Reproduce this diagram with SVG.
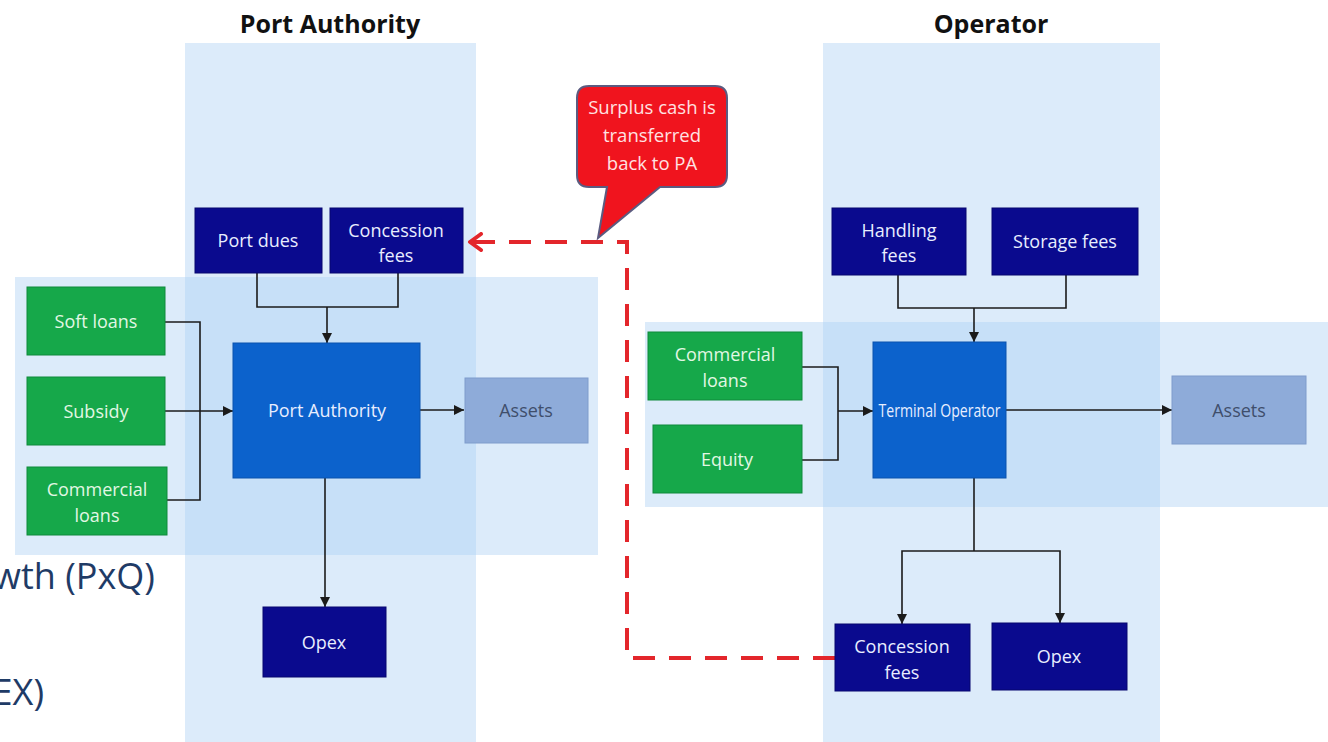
<svg xmlns="http://www.w3.org/2000/svg" width="1328" height="742" viewBox="0 0 1328 742">
<style>
.band{fill:#DCEBFA}
.ov{fill:#C7E0F8}
.navy{fill:#0A0A8E;stroke:#06066e;stroke-width:1}
.green{fill:#16A84A;stroke:#0f8a3a;stroke-width:1}
.main{fill:#0C62CC;stroke:#0a52ad;stroke-width:1}
.asset{fill:#8EABD9;stroke:#7f9ccb;stroke-width:1}
text{font-family:"Open Sans","Liberation Sans",sans-serif}
.lbl{font-size:18px;fill:#E8EEFF;text-anchor:middle}
.glbl{font-size:18px;fill:#E2F7E4;text-anchor:middle}
.albl{font-size:18px;fill:#3F4E6B;text-anchor:middle}
.title{font-size:25px;font-weight:bold;fill:#111;text-anchor:middle}
.conn{fill:none;stroke:#1b1b1b;stroke-width:1.6}
.side{font-size:36px;fill:#1F3B66;text-anchor:end}
.dash{fill:none;stroke:#E3262B;stroke-width:4;stroke-dasharray:22 14}
.callout{fill:#F0141E;stroke:#5B5B80;stroke-width:2}
.ctext{font-size:18.5px;fill:#FFE2E2;text-anchor:middle}
</style>
<defs>
<marker id="arr" viewBox="0 0 10 10" refX="10" refY="5" markerWidth="11" markerHeight="10" markerUnits="userSpaceOnUse" orient="auto"><path d="M0,0 L10,5 L0,10 z" fill="#1b1b1b"/></marker>
<marker id="rarr" viewBox="0 0 18 20" refX="15" refY="10" markerWidth="18" markerHeight="20" markerUnits="userSpaceOnUse" orient="auto"><path d="M4,2 L15,10 L4,18" fill="none" stroke="#E3262B" stroke-width="4" stroke-linecap="round" stroke-linejoin="round"/></marker>
</defs>
<rect width="1328" height="742" fill="#fff"/>
<g id="backgrounds">
<rect class="band" x="185" y="43" width="291" height="699"/>
<rect class="band" x="823" y="43" width="337" height="699"/>
<rect class="band" x="15" y="277" width="583" height="278"/>
<rect class="band" x="645" y="322" width="683" height="185"/>
<rect class="ov" x="185" y="277" width="291" height="278"/>
<rect class="ov" x="823" y="322" width="337" height="185"/>
</g>
<text class="title" x="330" y="33">Port Authority</text>
<text class="title" x="991" y="33">Operator</text>
<text class="side" x="155" y="589">wth (PxQ)</text>
<text class="side" x="44" y="705">EX)</text>
<g id="connectors">
<path class="conn" d="M257,273 V307 H398 V273"/>
<path class="conn" d="M327,307 V343" marker-end="url(#arr)"/>
<path class="conn" d="M165,322 H200 V500 H167"/>
<path class="conn" d="M165,411 H233" marker-end="url(#arr)"/>
<path class="conn" d="M420,410 H464" marker-end="url(#arr)"/>
<path class="conn" d="M325,478 V607" marker-end="url(#arr)"/>
<path class="conn" d="M898,275 V308 H1066 V275"/>
<path class="conn" d="M974,308 V342" marker-end="url(#arr)"/>
<path class="conn" d="M802,367 H838 V460 H802"/>
<path class="conn" d="M838,411 H873" marker-end="url(#arr)"/>
<path class="conn" d="M1006,410 H1172" marker-end="url(#arr)"/>
<path class="conn" d="M974,478 V551"/>
<path class="conn" d="M974,551 H902 V624" marker-end="url(#arr)"/>
<path class="conn" d="M974,551 H1060 V623" marker-end="url(#arr)"/>
<path class="dash" d="M835,658 H627 V242 H470" marker-end="url(#rarr)"/>
</g>
<g id="callout">
<path class="callout" d="M589,86 H715 Q727,86 727,98 V175 Q727,187 715,187 H660 L598,238 L607,187 H589 Q577,187 577,175 V98 Q577,86 589,86 Z"/>
<text class="ctext" x="652" y="114">Surplus cash is</text>
<text class="ctext" x="652" y="142">transferred</text>
<text class="ctext" x="652" y="170">back to PA</text>
</g>
<g id="pa-port-dues"><rect class="navy" x="195" y="208" width="127" height="65"/><text class="lbl" x="258" y="247">Port dues</text></g>
<g id="pa-concession-fees"><rect class="navy" x="330" y="208" width="133" height="65"/><text class="lbl" x="396" y="237">Concession</text><text class="lbl" x="396" y="262">fees</text></g>
<g id="soft-loans"><rect class="green" x="27" y="287" width="138" height="68"/><text class="glbl" x="96" y="328">Soft loans</text></g>
<g id="subsidy"><rect class="green" x="27" y="377" width="138" height="68"/><text class="glbl" x="96" y="418">Subsidy</text></g>
<g id="pa-commercial-loans"><rect class="green" x="27" y="467" width="140" height="68"/><text class="glbl" x="97" y="496">Commercial</text><text class="glbl" x="97" y="522">loans</text></g>
<g id="port-authority"><rect class="main" x="233" y="343" width="187" height="135"/><text class="lbl" x="327" y="417">Port Authority</text></g>
<g id="pa-assets"><rect class="asset" x="465" y="378" width="123" height="65"/><text class="albl" x="526" y="417">Assets</text></g>
<g id="pa-opex"><rect class="navy" x="263" y="607" width="123" height="70"/><text class="lbl" x="324" y="649">Opex</text></g>
<g id="handling-fees"><rect class="navy" x="832" y="208" width="134" height="67"/><text class="lbl" x="899" y="237">Handling</text><text class="lbl" x="899" y="262">fees</text></g>
<g id="storage-fees"><rect class="navy" x="992" y="208" width="146" height="67"/><text class="lbl" x="1065" y="248">Storage fees</text></g>
<g id="to-commercial-loans"><rect class="green" x="648" y="332" width="154" height="68"/><text class="glbl" x="725" y="361">Commercial</text><text class="glbl" x="725" y="387">loans</text></g>
<g id="equity"><rect class="green" x="653" y="425" width="149" height="68"/><text class="glbl" x="727" y="466">Equity</text></g>
<g id="terminal-operator"><rect class="main" x="873" y="342" width="133" height="136"/><text class="lbl" x="939.5" y="417" style="font-size:17.5px" textLength="122" lengthAdjust="spacingAndGlyphs">Terminal Operator</text></g>
<g id="to-assets"><rect class="asset" x="1172" y="376" width="134" height="68"/><text class="albl" x="1239" y="417">Assets</text></g>
<g id="to-concession-fees"><rect class="navy" x="835" y="624" width="135" height="67"/><text class="lbl" x="902" y="653">Concession</text><text class="lbl" x="902" y="679">fees</text></g>
<g id="to-opex"><rect class="navy" x="992" y="623" width="135" height="67"/><text class="lbl" x="1059" y="663">Opex</text></g>
</svg>
